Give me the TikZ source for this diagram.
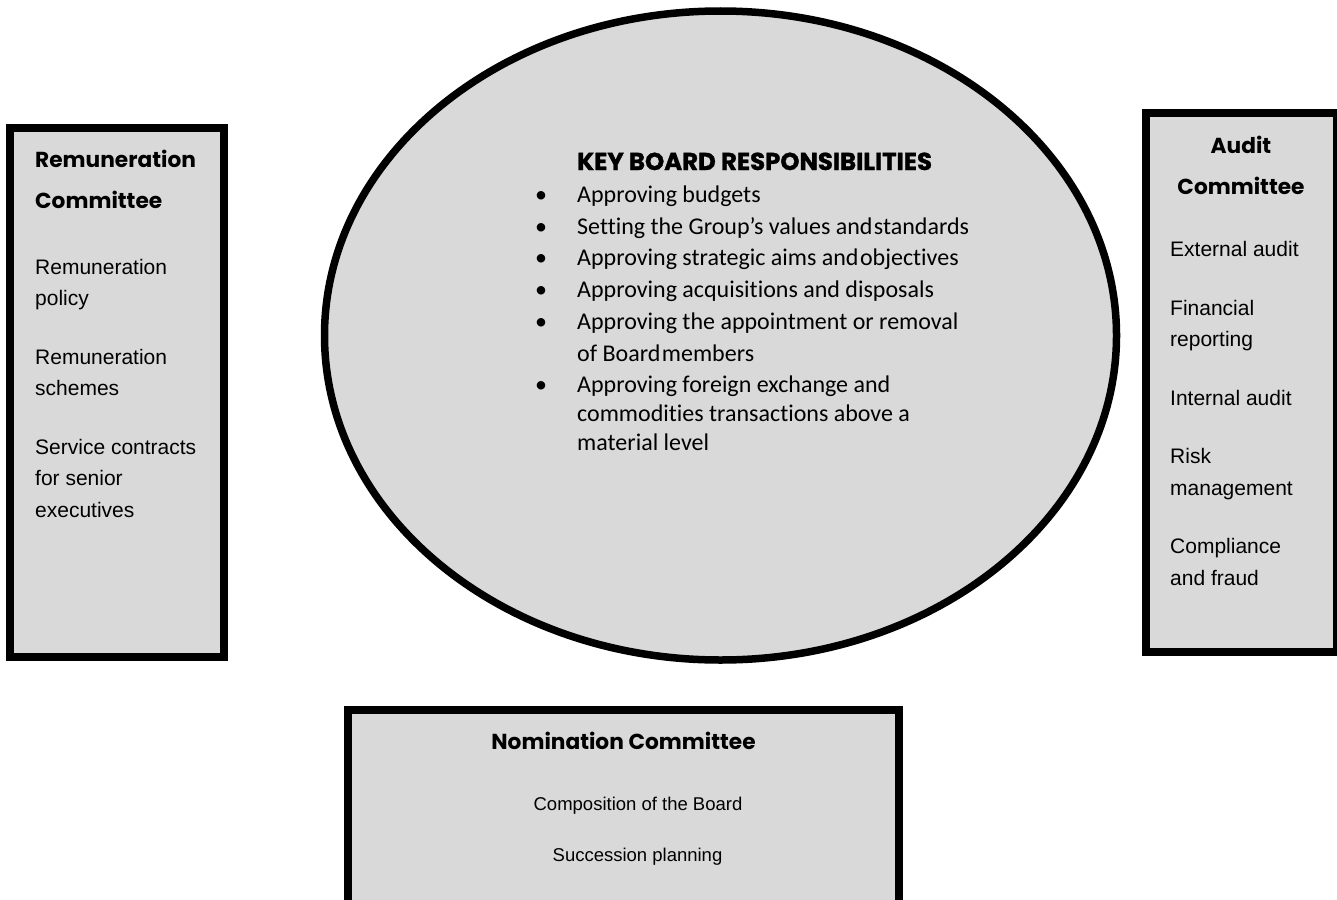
\documentclass[tikz,border=0pt]{standalone}
\usepackage{fontspec}
\usetikzlibrary{shapes.geometric}
\setmainfont{Liberation Sans}
\newfontfamily\headfont{Poppins}
\newfontfamily\keyfont[BoldFeatures={FakeBold=1.2}]{Poppins}
\newfontfamily\listfont[Ligatures=NoCommon]{Carlito}
\definecolor{panelgray}{HTML}{D9D9D9}

\begin{document}
\begin{tikzpicture}[x=1pt,y=-1pt,
  panel/.style={draw=black, fill=panelgray, line width=8pt, inner sep=0pt, outer sep=0pt},
  head/.style={font=\headfont\bfseries\fontsize{21.7}{26}\selectfont, inner sep=0pt},
  bighead/.style={font=\keyfont\bfseries\fontsize{24.4}{29}\selectfont, inner sep=0pt, anchor=base west},
  body/.style={font=\fontsize{21}{25}\selectfont, inner sep=0pt, anchor=base west},
  smallbody/.style={font=\fontsize{18.5}{22}\selectfont, inner sep=0pt, anchor=base},
  item/.style={font=\listfont\fontsize{24}{28}\selectfont, inner sep=0pt, anchor=base west},
  dot/.style={font=\listfont\fontsize{24}{28}\selectfont, inner sep=0pt, anchor=base},
]
\useasboundingbox (0,0) rectangle (1337,899);

% committee panels and the central board ellipse
\node[panel, minimum width=214, minimum height=529] (remun) at (117,392.5) {};
\node[panel, minimum width=191, minimum height=539] (audit) at (1241.5,382.5) {};
\node[panel, minimum width=551, minimum height=200] (nomin) at (623.5,810) {};
\node[panel, ellipse, line width=7.5pt, minimum width=792, minimum height=649] (board) at (720.5,335.5) {};

% Remuneration Committee
\node[head, anchor=base west] (rh1) at (35,167) {Remuneration};
\node[head, anchor=base west] (rh2) at (35,208) {Committee};
\node[body] (r1) at (35,274) {Remuneration};
\node[body] (r2) at (35,305) {policy};
\node[body] (r3) at (35,364) {Remuneration};
\node[body] (r4) at (35,395) {schemes};
\node[body] (r5) at (35,454) {Service contracts};
\node[body] (r6) at (35,485) {for senior};
\node[body] (r7) at (35,517) {executives};

% Audit Committee
\node[head, anchor=base] (ah1) at (1241,153) {Audit};
\node[head, anchor=base] (ah2) at (1241,194) {Committee};
\node[body] (a1) at (1170,256) {External audit};
\node[body] (a2) at (1170,315) {Financial};
\node[body] (a3) at (1170,346) {reporting};
\node[body] (a4) at (1170,405) {Internal audit};
\node[body] (a5) at (1170,463) {Risk};
\node[body] (a6) at (1170,495) {management};
\node[body] (a7) at (1170,553) {Compliance};
\node[body] (a8) at (1170,585) {and fraud};

% Nomination Committee
\node[head, anchor=base] (nh) at (623.5,749) {Nomination Committee};
\node[smallbody] (n1) at (638,810) {Composition of the Board};
\node[smallbody] (n2) at (637.5,861) {Succession planning};

% Key board responsibilities
\node[bighead] (kh) at (577,170) {KEY BOARD RESPONSIBILITIES};
\foreach \y/\bul/\txt [count=\i] in {
  202/1/{Approving budgets},
  234/1/{Setting the Group’s values and\hspace{1.5pt}standards},
  265/1/{Approving strategic aims and\hspace{1.5pt}objectives},
  297/1/{Approving acquisitions and disposals},
  329/1/{Approving the appointment or removal},
  361/0/{of Board\hspace{1.5pt}members},
  392/1/{Approving foreign exchange and},
  421/0/{commodities transactions above a},
  450/0/{material level}} {
  \node[item] (k\i) at (577,\y) {\txt};
  \ifnum\bul=1 \node[dot] (b\i) at (541,\y) {•}; \fi
}
\end{tikzpicture}
\end{document}
